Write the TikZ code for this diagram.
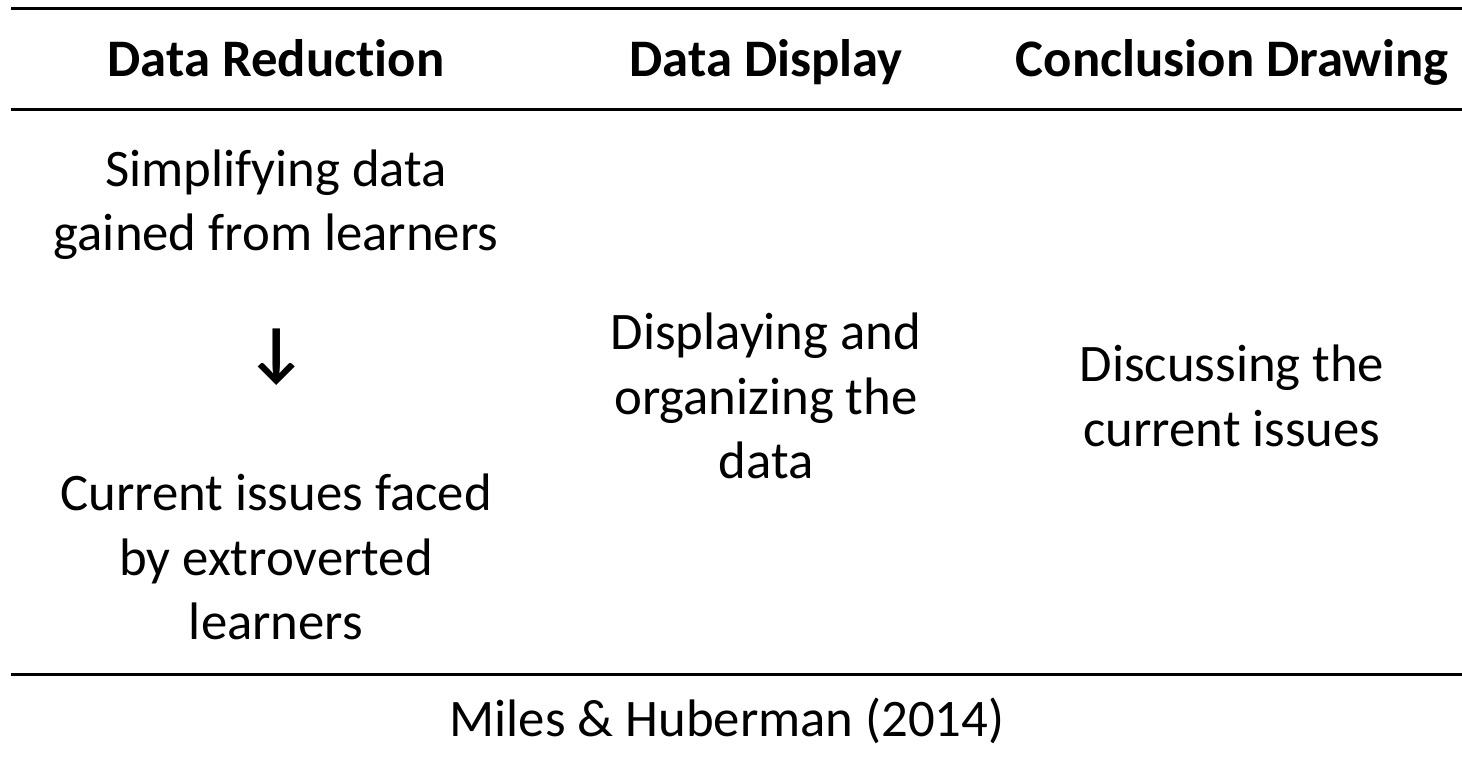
\documentclass[tikz,border=0pt]{standalone}
\usepackage{fontspec}
\setmainfont[Ligatures=NoCommon]{Carlito}
\begin{document}
\begin{tikzpicture}[x=0.01cm, y=-0.01cm,
    every node/.style={font=\fontsize{15}{18.3}\selectfont, inner sep=0pt, align=center},
    head/.style={font=\fontsize{15}{18.3}\selectfont\bfseries, anchor=base},
    rule/.style={line width=0.85pt, black}]
  \useasboundingbox (0,0) rectangle (1462,764);
  % rules of the table
  \coordinate (tl) at (11,9);    \coordinate (tr) at (1462,9);
  \coordinate (ml) at (11,110);  \coordinate (mr) at (1462,110);
  \coordinate (bl) at (11,675);  \coordinate (br) at (1462,675);
  \draw[rule] (tl) -- (tr);
  \draw[rule] (ml) -- (mr);
  \draw[rule] (bl) -- (br);
  % headers
  \node[head] (reduction) at (276,77) {Data Reduction};
  \node[head] (display) at (766,77) {Data Display};
  \node[head] (conclusion) at (1232,77) {Conclusion Drawing};
  % first column
  \node (simplify) at (276,205) {Simplifying data\\gained from learners};
  \node[font=\fontsize{19}{18.3}\selectfont\bfseries] (arrow) at (277,357) {↓};
  \node (issues) at (276,557) {Current issues faced\\by extroverted\\learners};
  % other columns
  \node (organize) at (766,396) {Displaying and\\organizing the\\data};
  \node (discuss) at (1232,396) {Discussing the\\current issues};
  % source
  \node (source) at (727,721) {Miles \& Huberman (2014)};
\end{tikzpicture}
\end{document}
